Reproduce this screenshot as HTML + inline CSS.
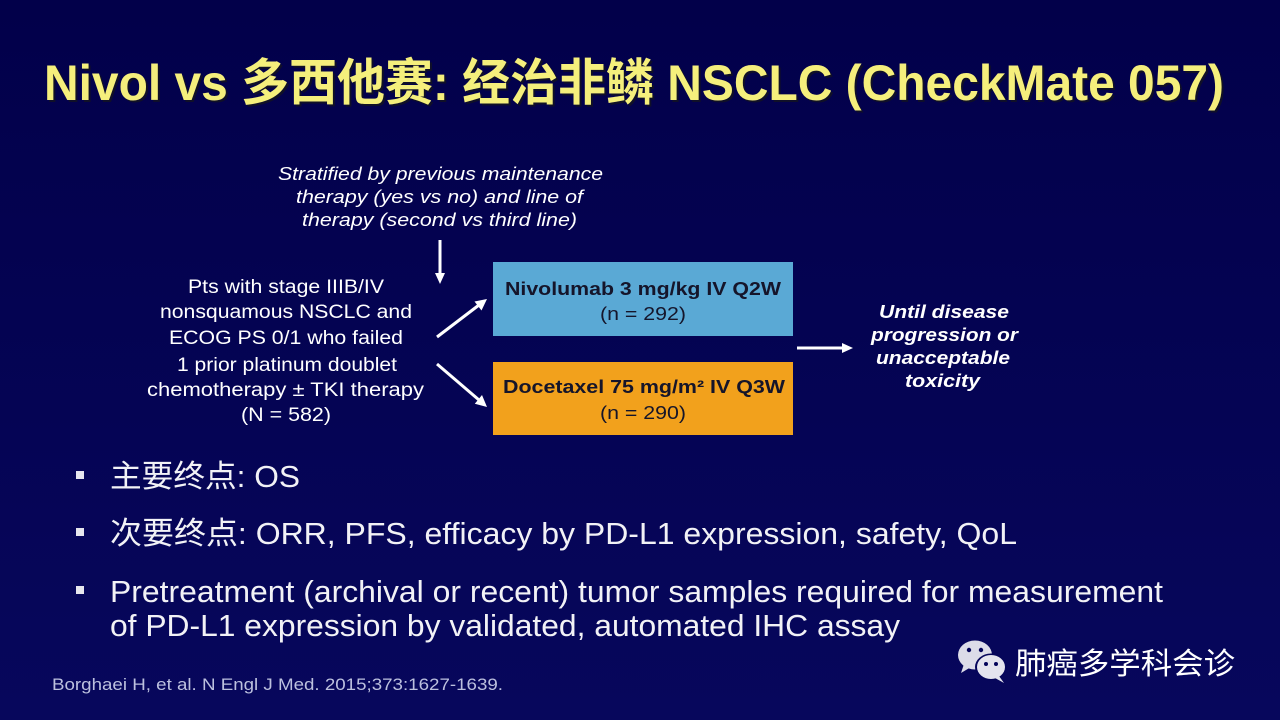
<!DOCTYPE html>
<html>
<head>
<meta charset="utf-8">
<style>
html,body{margin:0;padding:0;width:1280px;height:720px;overflow:hidden;background:#03004a;}
svg{display:block;}
text{font-family:"Liberation Sans","Noto Sans CJK SC",sans-serif;}
</style>
</head>
<body>
<svg width="1280" height="720" viewBox="0 0 1280 720" xmlns="http://www.w3.org/2000/svg">
  <defs>
    <linearGradient id="bg" x1="0" y1="0" x2="0" y2="1">
      <stop offset="0" stop-color="#02004a"/>
      <stop offset="1" stop-color="#07075c"/>
    </linearGradient>
  </defs>
  <rect x="0" y="0" width="1280" height="720" fill="url(#bg)"/>

  <!-- Title -->
  <text x="46" y="102" font-size="50" font-weight="bold" fill="#1a1a10" opacity="0.6" textLength="1180" lengthAdjust="spacingAndGlyphs">Nivol vs 多西他赛: 经治非鳞 NSCLC (CheckMate 057)</text>
  <text x="44" y="100" font-size="50" font-weight="bold" fill="#f5ef7c" textLength="1180" lengthAdjust="spacingAndGlyphs">Nivol vs 多西他赛: 经治非鳞 NSCLC (CheckMate 057)</text>

  <!-- Stratified text -->
  <g fill="#ffffff" font-size="18.5" font-style="italic">
    <text x="278" y="180" textLength="325" lengthAdjust="spacingAndGlyphs">Stratified by previous maintenance</text>
    <text x="296" y="203" textLength="287" lengthAdjust="spacingAndGlyphs">therapy (yes vs no) and line of</text>
    <text x="302" y="226" textLength="275" lengthAdjust="spacingAndGlyphs">therapy (second vs third line)</text>
  </g>

  <!-- Left patient text -->
  <g fill="#ffffff" font-size="19">
    <text x="188" y="293" textLength="196" lengthAdjust="spacingAndGlyphs">Pts with stage IIIB/IV</text>
    <text x="160" y="318" textLength="252" lengthAdjust="spacingAndGlyphs">nonsquamous  NSCLC and</text>
    <text x="169" y="344" textLength="234" lengthAdjust="spacingAndGlyphs">ECOG PS 0/1 who failed</text>
    <text x="177" y="371" textLength="220" lengthAdjust="spacingAndGlyphs">1 prior platinum  doublet</text>
    <text x="147" y="396" textLength="277" lengthAdjust="spacingAndGlyphs">chemotherapy  ±  TKI therapy</text>
    <text x="241" y="421" textLength="90" lengthAdjust="spacingAndGlyphs">(N = 582)</text>
  </g>

  <!-- Boxes -->
  <rect x="493" y="262" width="300" height="74" fill="#5aa9d5"/>
  <rect x="493" y="362" width="300" height="73" fill="#f2a11c"/>
  <g fill="#15152a" font-size="18">
    <text x="505" y="295" font-weight="bold" textLength="276" lengthAdjust="spacingAndGlyphs">Nivolumab  3 mg/kg IV  Q2W</text>
    <text x="600" y="320" textLength="86" lengthAdjust="spacingAndGlyphs">(n = 292)</text>
    <text x="503" y="393" font-weight="bold" textLength="282" lengthAdjust="spacingAndGlyphs">Docetaxel 75 mg/m² IV  Q3W</text>
    <text x="600" y="419" textLength="86" lengthAdjust="spacingAndGlyphs">(n = 290)</text>
  </g>

  <!-- Arrows -->
  <g stroke="#ffffff" stroke-width="3" fill="none">
    <line x1="440" y1="240" x2="440" y2="275"/>
    <line x1="437" y1="337" x2="479" y2="305"/>
    <line x1="437" y1="364" x2="479" y2="400"/>
    <line x1="797" y1="348" x2="843" y2="348"/>
  </g>
  <g fill="#ffffff">
    <polygon points="435,273 445,273 440,284"/>
    <polygon points="487,299 481.5,310.5 474.5,301.5"/>
    <polygon points="487,407 474.8,403.8 482,395"/>
    <polygon points="842,343 842,353 853,348"/>
  </g>

  <!-- Until disease text -->
  <g fill="#ffffff" font-size="18" font-weight="bold" font-style="italic">
    <text x="879" y="318" textLength="130" lengthAdjust="spacingAndGlyphs">Until disease</text>
    <text x="871" y="341" textLength="147" lengthAdjust="spacingAndGlyphs">progression or</text>
    <text x="876" y="364" textLength="134" lengthAdjust="spacingAndGlyphs">unacceptable</text>
    <text x="905" y="387" textLength="75" lengthAdjust="spacingAndGlyphs">toxicity</text>
  </g>

  <!-- Bullets -->
  <g fill="#e6e6ee">
    <rect x="76" y="471" width="8" height="8"/>
    <rect x="76" y="528" width="8" height="8"/>
    <rect x="76" y="586" width="8" height="8"/>
  </g>
  <g fill="#f2f2f6" font-size="31">
    <text x="110" y="487" textLength="190" lengthAdjust="spacingAndGlyphs">主要终点: OS</text>
    <text x="110" y="544" textLength="907" lengthAdjust="spacingAndGlyphs">次要终点: ORR, PFS, efficacy by PD-L1 expression,  safety, QoL</text>
    <text x="110" y="602" textLength="1053" lengthAdjust="spacingAndGlyphs">Pretreatment (archival or recent) tumor samples required for measurement</text>
    <text x="110" y="636" textLength="790" lengthAdjust="spacingAndGlyphs">of PD-L1 expression  by validated,  automated IHC assay</text>
  </g>

  <!-- Citation -->
  <text x="52" y="690" font-size="16.5" fill="#bcc0de" textLength="451" lengthAdjust="spacingAndGlyphs">Borghaei H, et al. N Engl J Med. 2015;373:1627-1639.</text>

  <!-- WeChat logo -->
  <g>
    <ellipse cx="975" cy="655" rx="17" ry="14.5" fill="#dcdce8"/>
    <polygon points="964,664 961,673 971,667" fill="#dcdce8"/>
    <ellipse cx="991" cy="667" rx="16" ry="13.5" fill="#05055a"/>
    <ellipse cx="991" cy="667" rx="14" ry="12" fill="#e4e4ee"/>
    <polygon points="999,676 1004,683 995,678" fill="#e4e4ee"/>
    <circle cx="969" cy="650" r="2.2" fill="#05055a"/>
    <circle cx="981" cy="650" r="2.2" fill="#05055a"/>
    <circle cx="986" cy="664" r="2" fill="#05055a"/>
    <circle cx="996" cy="664" r="2" fill="#05055a"/>
  </g>
  <text x="1015" y="674" font-size="30" fill="#ffffff" textLength="220" lengthAdjust="spacingAndGlyphs">肺癌多学科会诊</text>
</svg>
</body>
</html>
